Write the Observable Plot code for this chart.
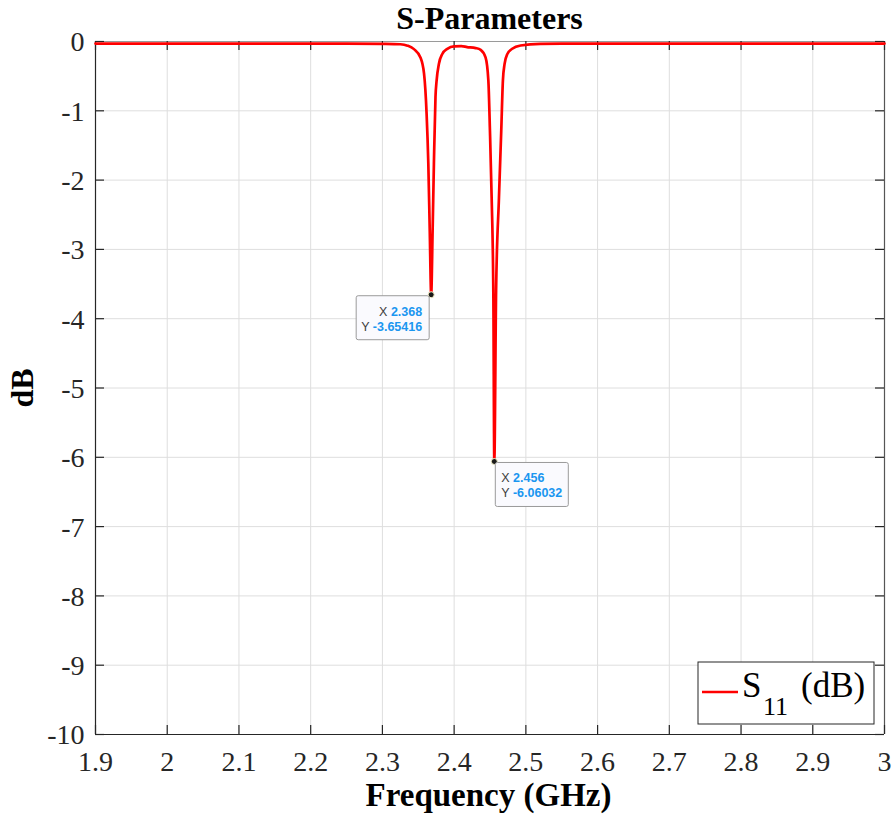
<!DOCTYPE html>
<html>
<head>
<meta charset="utf-8">
<script src="https://cdn.jsdelivr.net/npm/d3@7"></script>
<script src="https://cdn.jsdelivr.net/npm/@observablehq/plot@0.6"></script>
<style>
  html, body { margin: 0; padding: 0; background: #ffffff; }
  #chart svg { display: block; }
  #chart svg text { font-family: "Liberation Serif", "Times New Roman", serif; }
  #chart svg text.tip { font-family: "Liberation Sans", Arial, sans-serif; }
</style>
</head>
<body>
<div id="chart"></div>
<script>
// ---- data ----
const freqGHz = [1.90, 2.00, 2.10, 2.20, 2.25, 2.30, 2.325, 2.335, 2.344, 2.353, 2.358, 2.3616, 2.364, 2.366, 2.368,
                 2.370, 2.3718, 2.374, 2.3756, 2.3788, 2.3835, 2.3905, 2.400, 2.410, 2.418, 2.430, 2.437, 2.4438,
                 2.4477, 2.4499, 2.4523, 2.4547, 2.456, 2.4585, 2.4625, 2.4657, 2.468, 2.4704, 2.4742, 2.481,
                 2.4927, 2.520, 2.550, 2.600, 2.700, 2.800, 2.900, 3.000];
const s11dB   = [-0.03, -0.03, -0.03, -0.03, -0.03, -0.034, -0.04, -0.06, -0.11, -0.23, -0.46, -1.04, -1.76, -2.73, -3.65416,
                 -2.73, -1.76, -0.80, -0.56, -0.32, -0.18, -0.105, -0.07, -0.068, -0.08, -0.095, -0.12, -0.23,
                 -0.56, -1.28, -2.25, -3.69, -6.06032, -3.6, -2.25, -1.28, -0.56, -0.32, -0.18, -0.105,
                 -0.058, -0.034, -0.032, -0.03, -0.03, -0.03, -0.03, -0.03];
const markerFreq = [2.368, 2.456];
const markerDb = [-3.65416, -6.06032];
const markerXText = ["2.368", "2.456"];
const markerYText = ["-3.65416", "-6.06032"];
const xTicks = [1.9, 2.0, 2.1, 2.2, 2.3, 2.4, 2.5, 2.6, 2.7, 2.8, 2.9, 3.0];
const xTickLabels = ["1.9", "2", "2.1", "2.2", "2.3", "2.4", "2.5", "2.6", "2.7", "2.8", "2.9", "3"];
const yTicks = [0, -1, -2, -3, -4, -5, -6, -7, -8, -9, -10];
const yTickLabels = ["0", "-1", "-2", "-3", "-4", "-5", "-6", "-7", "-8", "-9", "-10"];
const titleText = "S-Parameters";
const xLabel = "Frequency (GHz)";
const yLabel = "dB";

const rows = freqGHz.map((f, i) => ({f, db: s11dB[i]}));
const markers = markerFreq.map((f, i) => ({f, db: markerDb[i]}));

const W = 893, H = 825, mL = 95, mR = 9, mT = 41, mB = 91;
const plotW = W - mL - mR, plotH = H - mT - mB;
const axisColor = "#262626";
const serif = "Liberation Serif, Times New Roman, serif";

const plot = Plot.plot({
  width: W, height: H,
  marginLeft: mL, marginRight: mR, marginTop: mT, marginBottom: mB,
  x: {domain: [1.9, 3.0], axis: null},
  y: {domain: [-10, 0], axis: null},
  style: {background: "#ffffff", overflow: "visible"},
  marks: [
    Plot.gridX(xTicks, {stroke: "#dedede", strokeOpacity: 1, strokeWidth: 1}),
    Plot.gridY(yTicks, {stroke: "#dedede", strokeOpacity: 1, strokeWidth: 1}),
    // box
    Plot.ruleY([0], {stroke: "#9a9a9a", strokeWidth: 1.2}),
    Plot.ruleX([3.0], {stroke: "#555555", strokeWidth: 1.2}),
    Plot.ruleX([1.9], {stroke: axisColor, strokeWidth: 1.2}),
    Plot.ruleY([-10], {stroke: axisColor, strokeWidth: 1.2}),
    // inward ticks
    Plot.tickX(xTicks, {x: d => d, insetTop: plotH - 9, stroke: axisColor, strokeWidth: 1.2}),
    Plot.tickX(xTicks, {x: d => d, insetBottom: plotH - 9, stroke: axisColor, strokeWidth: 1.2}),
    Plot.tickY(yTicks, {y: d => d, insetRight: plotW - 9, stroke: axisColor, strokeWidth: 1.2}),
    Plot.tickY(yTicks, {y: d => d, insetLeft: plotW - 9, stroke: axisColor, strokeWidth: 1.2}),
    // tick labels
    Plot.text(xTicks, {x: d => d, y: -10, text: (d, i) => xTickLabels[i], dy: 28, fontSize: 28, fontFamily: serif, fill: axisColor, lineAnchor: "middle"}),
    Plot.text(yTicks, {x: 1.9, y: d => d, text: (d, i) => yTickLabels[i], textAnchor: "end", dx: -11, dy: 1, fontSize: 28, fontFamily: serif, fill: axisColor, lineAnchor: "middle"}),
    // curve
    Plot.line(rows, {x: "f", y: "db", stroke: "#ff0000", strokeWidth: 2.7, curve: "monotone-x"}),
    // data-tip points
    Plot.dot(markers, {x: "f", y: "db", r: 3, fill: "#1a1a1a", stroke: "#f3f0c8", strokeWidth: 1})
  ]
});

document.getElementById("chart").appendChild(plot);

const svg = d3.select(plot);
const sx = plot.scale("x"), sy = plot.scale("y");

// Title and axis labels
svg.append("text").attr("x", mL + plotW / 2).attr("y", 28.5).attr("text-anchor", "middle")
  .attr("font-weight", "bold").attr("font-size", 32).attr("fill", "#000")
  .text(titleText);
svg.append("text").attr("x", mL + plotW / 2 - 1).attr("y", 806).attr("text-anchor", "middle")
  .attr("font-weight", "bold").attr("font-size", 33).attr("fill", "#000")
  .text(xLabel);
svg.append("text").attr("transform", "translate(33," + 388 + ") rotate(-90)").attr("text-anchor", "middle")
  .attr("font-weight", "bold").attr("font-size", 32).attr("fill", "#000")
  .text(yLabel);

// Data tips
markers.forEach((m, i) => {
  const px = sx.apply(m.f), py = sy.apply(m.db);
  const bw = 73, bh = 44;
  const left = i === 0;
  const bx = left ? px - bw - 1.5 : px + 1.5;
  const by = py + 1.5;
  const g = svg.append("g");
  g.append("rect").attr("x", bx).attr("y", by).attr("width", bw).attr("height", bh)
    .attr("rx", 2).attr("fill", "#fafafe").attr("stroke", "#9a9a9a").attr("stroke-width", 1);
  const lines = [["X", markerXText[i]], ["Y", markerYText[i]]];
  lines.forEach((ln, j) => {
    const t = g.append("text").attr("class", "tip")
      .attr("x", left ? bx + bw - 7 : bx + 6)
      .attr("y", by + 20 + j * 15)
      .attr("text-anchor", left ? "end" : "start")
      .attr("font-size", 12.5);
    t.append("tspan").attr("fill", "#404040").text(ln[0] + " ");
    t.append("tspan").attr("fill", "#1a96f0").attr("font-weight", "bold").text(ln[1]);
  });
});

// Legend
const lg = svg.append("g").attr("text-anchor", "start");
lg.append("rect").attr("x", 698).attr("y", 662).attr("width", 176).attr("height", 62)
  .attr("fill", "#ffffff").attr("stroke", axisColor).attr("stroke-width", 1);
lg.append("line").attr("x1", 702).attr("x2", 738).attr("y1", 692).attr("y2", 692)
  .attr("stroke", "#ff0000").attr("stroke-width", 2.5);
lg.append("text").attr("x", 742).attr("y", 697).attr("text-anchor", "start").attr("font-size", 35).attr("fill", "#000").text("S");
lg.append("text").attr("x", 763).attr("y", 715).attr("text-anchor", "start").attr("font-size", 26).attr("fill", "#000").text("11");
lg.append("text").attr("x", 801).attr("y", 697).attr("text-anchor", "start").attr("font-size", 35).attr("fill", "#000").text("(dB)");
</script>
</body>
</html>
